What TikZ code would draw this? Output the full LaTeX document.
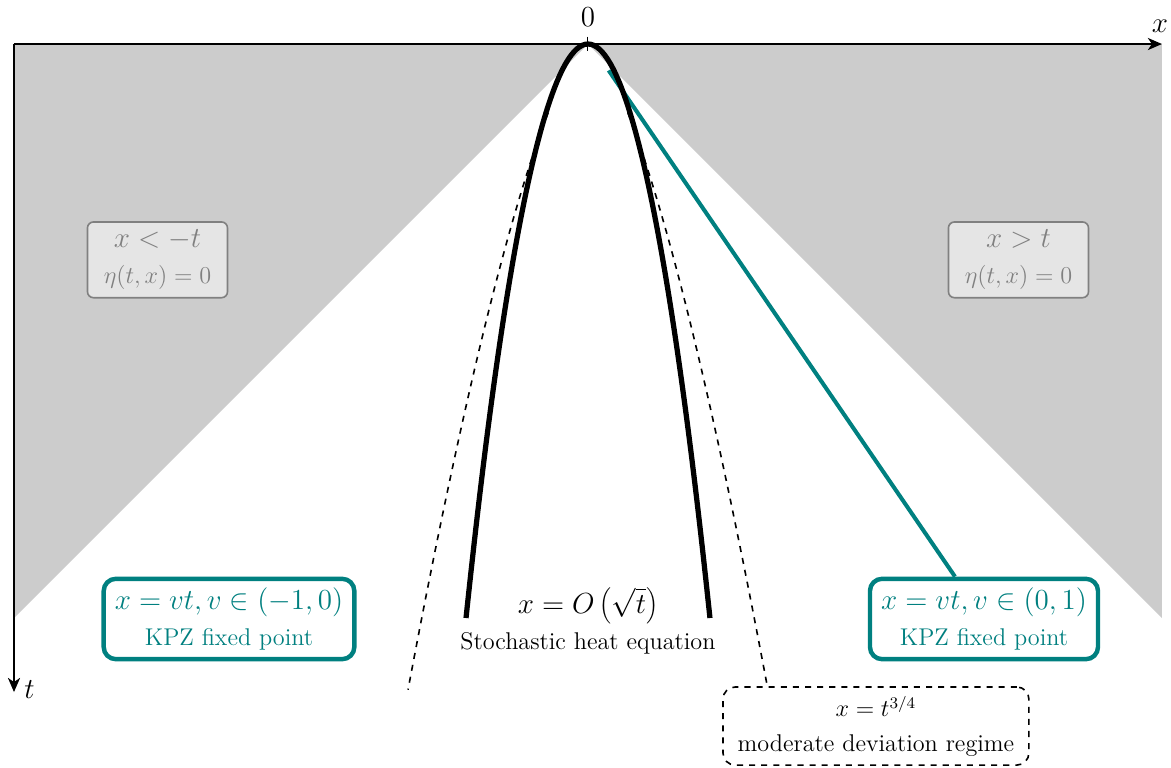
\documentclass[tikz,border=0pt]{standalone}
\usetikzlibrary{arrows.meta}
\begin{document}
\begin{tikzpicture}[
  axisline/.style={line width=0.9pt,-{Stealth[length=7pt,width=6pt,inset=2pt]}},
  regionbox/.style={draw=black!50, fill=black!10, text=black!50, rounded corners=3pt,
    line width=0.8pt, align=center, font=\large, minimum width=2.44cm, minimum height=1.32cm, inner sep=2pt},
  kpzbox/.style={draw=teal, fill=white, text=teal, rounded corners=6pt, line width=2.2pt,
    align=center, font=\large, minimum height=1.40cm, inner xsep=5.5pt, inner ysep=2pt},
  mdbox/.style={draw, dashed, rounded corners=6pt, line width=0.8pt, align=center, font=\large,
    minimum width=5.33cm, minimum height=1.36cm, inner sep=2pt},
  heatcurve/.style={line width=2.6pt},
  mdcurve/.style={dashed, line width=0.8pt},
  kpzline/.style={teal, line width=2pt}
]
\useasboundingbox (-10.244,-12.596) rectangle (10.157,0.767);
% shaded light-cone complements
\fill[black!20] (-10,0) -- (0,0) -- (-10,-10) -- cycle;
\fill[black!20] (10,0) -- (0,0) -- (10,-10) -- cycle;
\coordinate (O) at (0,0);
% region boxes
\node[regionbox] (left) at (-7.5,-3.76) {{\Large $x<-t$}\\[4pt]$\eta(t,x)=0$};
\node[regionbox] (right) at (7.5,-3.76) {{\Large $x>t$}\\[4pt]$\eta(t,x)=0$};
% KPZ boxes
\node[kpzbox] (kpzL) at (-6.254,-10.017) {{\Large $x=vt, v\in(-1,0)$}\\[4pt]KPZ fixed point};
\node[kpzbox] (kpzR) at (6.899,-10.017) {{\Large $x=vt, v\in(0,1)$}\\[4pt]KPZ fixed point};
\coordinate (tealstart) at (0.36,-0.46);
\draw[kpzline] (tealstart) -- (kpzR);
% moderate deviation
\node[mdbox] (md) at (5.017,-11.882) {$x=t^{3/4}$\\[3pt]moderate deviation regime};
\draw[mdcurve] plot[domain=1.2:11.2, samples=80] ({0.615*pow(\x,0.673)}, {-\x});
\draw[mdcurve] plot[domain=1.2:11.25, samples=80] ({-0.615*pow(\x,0.673)}, {-\x});
% SHE
\draw[heatcurve] (-2.125,-10) parabola bend (0,0) (2.125,-10);
\node[align=center, font=\large] (she) at (0,-10.05) {{\Large $x=O\left(\sqrt{t}\right)$}\\[4pt]Stochastic heat equation};
% axes
\draw[axisline] (-10,0) -- (10,0);
\draw[axisline] (-10,0) -- (-10,-11.29);
\draw[line width=0.5pt] (0,0.13) -- (0,-0.13);
\node[font=\Large, anchor=south, inner sep=0pt] (zero) at (0,0.296) {$0$};
\node[font=\Large, anchor=south, inner sep=0pt] (xlab) at (9.965,0.19) {$x$};
\node[font=\Large, anchor=west, inner sep=0pt] (tlab) at (-9.826,-11.25) {$t$};
\end{tikzpicture}
\end{document}
